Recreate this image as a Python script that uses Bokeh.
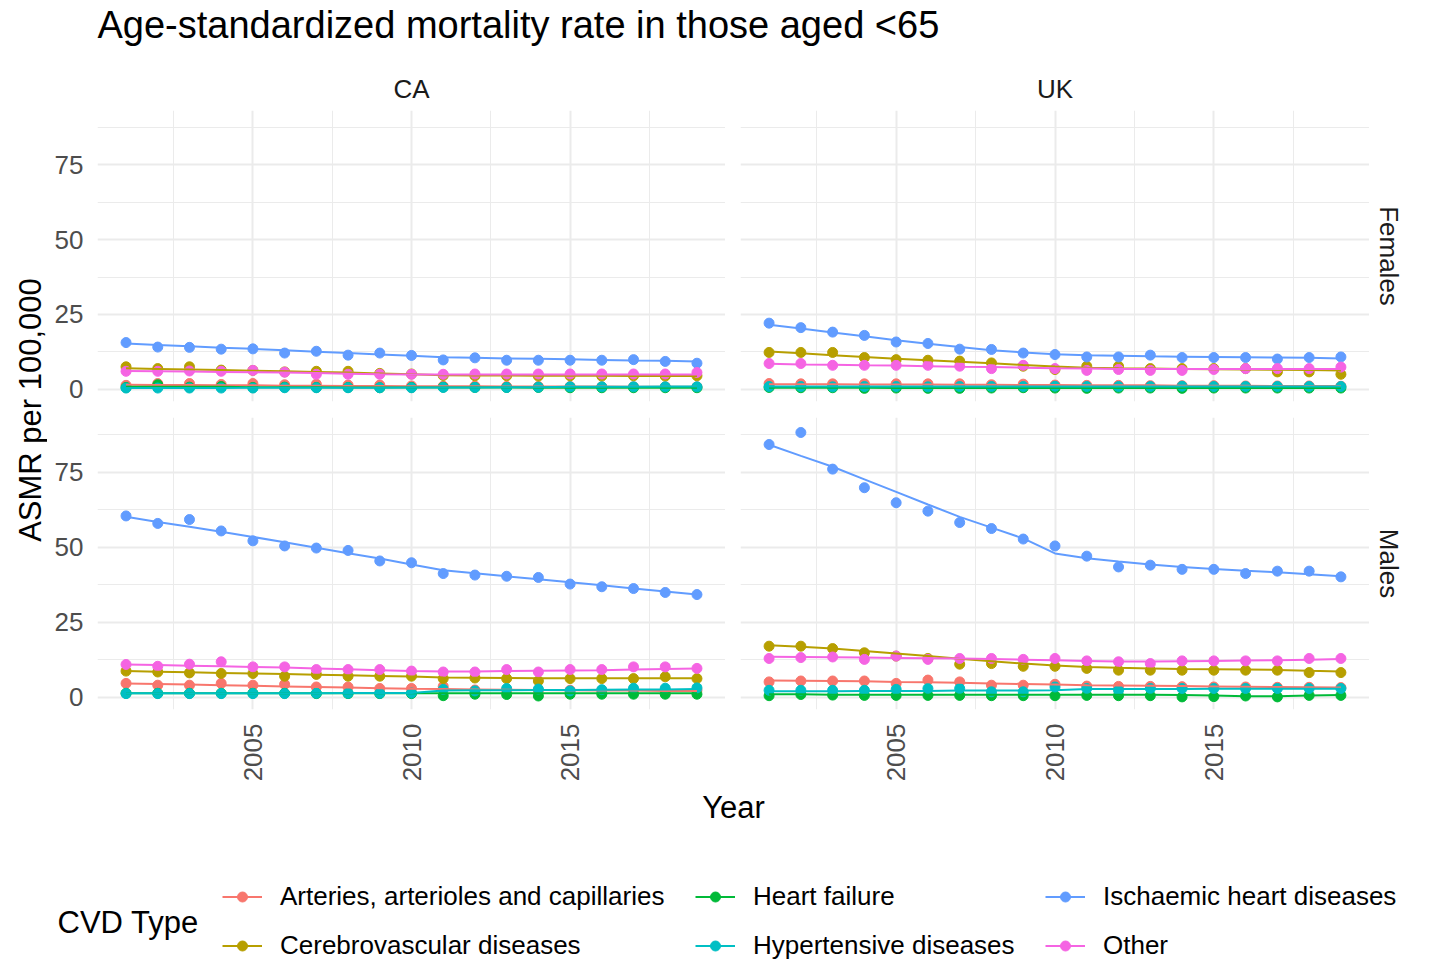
import math
from bokeh.plotting import figure
from bokeh.layouts import row, column
from bokeh.models import Range1d, FixedTicker, Label, Legend, LegendItem, Grid
from bokeh.embed import file_html
from bokeh.resources import INLINE

# ---------------- data ----------------
years = [2001, 2002, 2003, 2004, 2005, 2006, 2007, 2008, 2009, 2010,
         2011, 2012, 2013, 2014, 2015, 2016, 2017, 2018, 2019]
cvd_types = ["Arteries, arterioles and capillaries", "Cerebrovascular diseases",
             "Heart failure", "Hypertensive diseases",
             "Ischaemic heart diseases", "Other"]
colors = ["#F8766D", "#B79F00", "#00BA38", "#00BFC4", "#619CFF", "#F564E3"]
countries = ["CA", "UK"]
sexes = ["Females", "Males"]
x_ticks = [2005, 2010, 2015]
y_ticks = [0, 25, 50, 75]
title_text = "Age-standardized mortality rate in those aged <65"
x_title = "Year"
y_title = "ASMR per 100,000"
legend_title = "CVD Type"

# CA Females (observed points, fitted line)
ca_f_art = [1.3, 1.9, 1.9, 1.6, 1.9, 1.5, 1.7, 1.4, 1.4, 1.1, 1.0, 1.0, 0.9, 0.9, 0.9, 0.8, 0.8, 0.8, 0.8]
ca_f_art_fit = [1.5, 1.4, 1.4, 1.3, 1.3, 1.2, 1.2, 1.1, 1.1, 1.0, 1.0, 1.0, 0.9, 0.9, 0.9, 0.9, 0.8, 0.8, 0.8]
ca_f_cer = [7.5, 6.9, 7.5, 6.4, 6.3, 5.8, 6.0, 6.0, 5.3, 5.1, 4.6, 4.5, 4.5, 4.4, 4.5, 4.4, 4.5, 4.4, 4.5]
ca_f_cer_fit = [7.0, 6.8, 6.6, 6.4, 6.2, 6.0, 5.8, 5.6, 5.3, 5.0, 4.7, 4.6, 4.6, 4.5, 4.5, 4.5, 4.4, 4.4, 4.4]
ca_f_hf = [0.6, 1.5, 0.7, 0.9, 0.6, 0.7, 0.6, 0.6, 0.5, 0.6, 0.7, 0.6, 0.6, 0.6, 0.5, 0.5, 0.5, 0.5, 0.5]
ca_f_hf_fit = [0.8, 0.8, 0.8, 0.8, 0.7, 0.7, 0.7, 0.6, 0.6, 0.6, 0.6, 0.6, 0.6, 0.5, 0.5, 0.5, 0.5, 0.5, 0.5]
ca_f_hyp = [0.4, 0.4, 0.4, 0.4, 0.4, 0.5, 0.5, 0.5, 0.5, 0.5, 0.6, 0.6, 0.6, 0.7, 0.8, 0.8, 0.8, 0.8, 0.8]
ca_f_hyp_fit = [0.4, 0.4, 0.4, 0.4, 0.5, 0.5, 0.5, 0.5, 0.5, 0.6, 0.6, 0.6, 0.7, 0.7, 0.8, 0.8, 0.8, 0.9, 0.9]
ca_f_ihd = [15.6, 14.1, 14.0, 13.4, 13.5, 12.1, 12.7, 11.4, 12.1, 11.3, 9.8, 10.5, 9.7, 9.7, 9.7, 9.7, 9.9, 9.3, 8.7]
ca_f_ihd_fit = [15.3, 14.8, 14.4, 13.9, 13.5, 13.0, 12.5, 12.1, 11.6, 11.2, 10.7, 10.5, 10.3, 10.2, 10.0, 9.8, 9.6, 9.5, 9.3]
ca_f_oth = [6.0, 6.0, 6.1, 6.0, 6.3, 5.7, 5.0, 5.0, 5.0, 5.0, 5.0, 5.1, 5.1, 5.1, 5.1, 5.1, 5.1, 5.1, 5.6]
ca_f_oth_fit = [6.1, 6.0, 5.9, 5.8, 5.7, 5.6, 5.4, 5.2, 5.0, 4.9, 4.9, 4.9, 4.9, 4.9, 4.9, 4.9, 4.9, 4.9, 4.9]

# UK Females
uk_f_art = [1.9, 1.8, 1.8, 1.8, 1.8, 1.8, 1.8, 1.5, 1.7, 1.4, 1.3, 1.3, 1.2, 1.2, 1.2, 1.1, 1.1, 1.1, 1.0]
uk_f_art_fit = [1.7, 1.7, 1.7, 1.6, 1.6, 1.6, 1.5, 1.5, 1.4, 1.4, 1.3, 1.3, 1.3, 1.2, 1.2, 1.2, 1.1, 1.1, 1.1]
uk_f_cer = [12.3, 12.3, 12.3, 10.6, 9.9, 9.7, 9.4, 8.8, 7.7, 6.6, 7.7, 7.7, 6.9, 6.9, 6.9, 6.9, 5.8, 5.8, 5.0]
uk_f_cer_fit = [12.6, 12.0, 11.4, 10.8, 10.2, 9.7, 9.2, 8.7, 8.1, 7.6, 7.2, 7.0, 6.9, 6.8, 6.7, 6.6, 6.5, 6.4, 6.3]
uk_f_hf = [0.6, 0.5, 0.5, 0.3, 0.4, 0.3, 0.3, 0.4, 0.5, 0.4, 0.3, 0.4, 0.4, 0.3, 0.4, 0.4, 0.4, 0.4, 0.4]
uk_f_hf_fit = [0.5, 0.5, 0.5, 0.5, 0.4, 0.4, 0.4, 0.4, 0.4, 0.4, 0.4, 0.4, 0.4, 0.4, 0.4, 0.4, 0.4, 0.4, 0.4]
uk_f_hyp = [0.9, 0.9, 0.8, 0.9, 0.9, 0.8, 0.9, 0.9, 0.9, 1.0, 0.9, 0.9, 0.9, 1.0, 0.9, 0.9, 0.9, 0.9, 0.9]
uk_f_hyp_fit = [0.9, 0.9, 0.9, 0.9, 0.9, 0.9, 0.9, 0.9, 0.9, 0.9, 0.9, 0.9, 0.9, 0.9, 0.9, 0.9, 0.9, 0.9, 0.9]
uk_f_ihd = [22.1, 20.6, 19.1, 18.0, 15.8, 15.3, 13.4, 13.3, 12.1, 11.6, 10.8, 10.8, 11.4, 10.6, 10.6, 10.6, 10.1, 10.6, 10.8]
uk_f_ihd_fit = [21.6, 20.3, 19.0, 17.7, 16.4, 15.2, 14.1, 13.0, 12.3, 11.7, 11.4, 11.2, 11.0, 10.9, 10.8, 10.7, 10.6, 10.5, 10.3]
uk_f_oth = [8.6, 8.6, 8.0, 8.0, 8.0, 8.0, 7.7, 6.9, 8.0, 6.9, 6.3, 6.6, 6.3, 6.3, 6.6, 6.9, 6.9, 6.9, 7.4]
uk_f_oth_fit = [8.5, 8.3, 8.2, 8.0, 7.9, 7.7, 7.5, 7.4, 7.2, 7.0, 6.9, 6.8, 6.8, 6.8, 6.8, 6.8, 6.8, 6.8, 6.8]

# CA Males
ca_m_art = [4.6, 4.0, 4.0, 4.6, 4.0, 4.3, 3.4, 3.4, 2.9, 2.9, 3.6, 2.4, 2.4, 2.3, 2.3, 2.3, 2.3, 2.3, 2.3]
ca_m_art_fit = [4.6, 4.4, 4.2, 4.0, 3.8, 3.6, 3.4, 3.2, 3.0, 2.8, 2.7, 2.6, 2.5, 2.4, 2.3, 2.2, 2.2, 2.1, 2.1]
ca_m_cer = [8.7, 8.4, 8.1, 7.9, 7.9, 7.0, 7.6, 7.0, 7.0, 7.0, 6.2, 6.4, 6.2, 5.4, 6.2, 6.2, 6.2, 6.8, 6.2]
ca_m_cer_fit = [8.7, 8.5, 8.3, 8.1, 7.9, 7.7, 7.5, 7.3, 7.1, 6.9, 6.6, 6.5, 6.4, 6.3, 6.3, 6.3, 6.3, 6.3, 6.3]
ca_m_hf = [1.3, 1.3, 1.3, 1.3, 1.3, 1.3, 1.2, 1.2, 1.2, 1.2, 0.5, 1.0, 0.9, 0.4, 1.0, 1.0, 1.0, 1.0, 1.0]
ca_m_hf_fit = [1.3, 1.3, 1.3, 1.3, 1.3, 1.3, 1.3, 1.3, 1.3, 1.3, 1.3, 1.3, 1.3, 1.3, 1.3, 1.3, 1.3, 1.3, 1.3]
ca_m_hyp = [1.2, 1.2, 1.2, 1.2, 1.2, 1.2, 1.3, 1.3, 1.3, 1.4, 2.6, 2.1, 2.9, 2.7, 2.1, 2.5, 3.0, 3.0, 3.1]
ca_m_hyp_fit = [1.3, 1.3, 1.3, 1.3, 1.3, 1.3, 1.3, 1.4, 1.4, 1.4, 2.2, 2.3, 2.3, 2.4, 2.4, 2.5, 2.6, 2.6, 2.7]
ca_m_ihd = [60.4, 57.9, 59.2, 55.4, 52.1, 50.4, 49.7, 48.9, 45.4, 44.8, 41.2, 40.7, 40.3, 39.9, 37.7, 36.8, 36.2, 34.9, 34.2]
ca_m_ihd_fit = [60.1, 58.4, 56.8, 55.1, 53.4, 51.6, 49.8, 48.0, 46.2, 44.2, 42.3, 41.3, 40.3, 39.3, 38.3, 37.3, 36.2, 35.2, 34.2]
ca_m_oth = [10.9, 10.3, 11.0, 11.8, 10.1, 10.1, 9.2, 9.2, 9.2, 8.7, 8.4, 8.4, 9.2, 8.4, 9.2, 9.2, 10.1, 10.1, 9.6]
ca_m_oth_fit = [10.9, 10.7, 10.5, 10.3, 10.1, 9.9, 9.6, 9.3, 9.0, 8.7, 8.6, 8.6, 8.7, 8.8, 8.9, 9.0, 9.2, 9.4, 9.6]

# UK Males
uk_m_art = [5.1, 5.4, 5.4, 5.4, 4.6, 5.7, 5.1, 4.0, 4.0, 4.3, 3.7, 3.6, 3.6, 3.5, 3.4, 3.4, 3.3, 3.3, 3.2]
uk_m_art_fit = [5.6, 5.5, 5.4, 5.3, 5.1, 5.0, 4.8, 4.6, 4.4, 4.2, 4.0, 3.9, 3.8, 3.7, 3.6, 3.5, 3.4, 3.3, 3.2]
uk_m_cer = [17.0, 17.0, 16.2, 14.8, 13.7, 12.9, 11.0, 11.2, 10.3, 10.3, 9.6, 9.0, 9.0, 9.0, 9.0, 9.0, 9.0, 8.2, 8.2]
uk_m_cer_fit = [17.3, 16.8, 16.2, 15.4, 14.6, 13.7, 12.8, 12.0, 11.2, 10.6, 10.1, 9.8, 9.6, 9.4, 9.3, 9.2, 9.1, 8.8, 8.6]
uk_m_hf = [0.5, 0.9, 0.7, 0.6, 0.6, 0.6, 0.6, 0.5, 0.5, 0.5, 0.6, 0.5, 0.5, 0.1, 0.2, 0.4, 0.1, 0.6, 0.6]
uk_m_hf_fit = [1.0, 1.0, 0.8, 0.8, 0.8, 0.8, 0.8, 0.8, 0.8, 0.8, 0.8, 0.8, 0.8, 0.7, 0.6, 0.3, 0.3, 0.6, 0.7]
uk_m_hyp = [2.3, 2.3, 2.3, 2.3, 2.6, 2.9, 2.9, 1.8, 1.8, 3.4, 2.9, 2.3, 2.9, 2.9, 2.9, 2.9, 2.9, 2.9, 2.9]
uk_m_hyp_fit = [2.0, 2.0, 2.0, 2.1, 2.1, 2.1, 2.2, 2.2, 2.2, 2.3, 2.7, 2.7, 2.7, 2.7, 2.8, 2.8, 2.8, 2.8, 2.8]
uk_m_ihd = [84.2, 88.2, 76.0, 69.8, 64.8, 62.0, 58.2, 56.2, 52.7, 50.4, 47.0, 43.4, 44.0, 42.6, 42.6, 41.2, 42.0, 42.0, 40.1]
uk_m_ihd_fit = [84.1, 80.4, 76.8, 72.6, 68.4, 64.2, 60.1, 56.5, 52.9, 47.9, 46.3, 45.2, 44.2, 43.4, 42.7, 42.1, 41.6, 41.0, 40.3]
uk_m_oth = [12.9, 13.2, 13.4, 12.6, 13.7, 12.6, 12.9, 12.9, 12.6, 12.9, 12.1, 11.8, 11.2, 12.1, 12.1, 12.1, 12.1, 12.9, 12.9]
uk_m_oth_fit = [13.5, 13.4, 13.3, 13.2, 13.1, 13.0, 12.9, 12.7, 12.5, 12.3, 12.1, 11.9, 11.9, 12.0, 12.1, 12.2, 12.3, 12.5, 12.7]

panel_data = {
    ("CA", "Females"): [(ca_f_art, ca_f_art_fit), (ca_f_cer, ca_f_cer_fit), (ca_f_hf, ca_f_hf_fit),
                        (ca_f_hyp, ca_f_hyp_fit), (ca_f_ihd, ca_f_ihd_fit), (ca_f_oth, ca_f_oth_fit)],
    ("UK", "Females"): [(uk_f_art, uk_f_art_fit), (uk_f_cer, uk_f_cer_fit), (uk_f_hf, uk_f_hf_fit),
                        (uk_f_hyp, uk_f_hyp_fit), (uk_f_ihd, uk_f_ihd_fit), (uk_f_oth, uk_f_oth_fit)],
    ("CA", "Males"): [(ca_m_art, ca_m_art_fit), (ca_m_cer, ca_m_cer_fit), (ca_m_hf, ca_m_hf_fit),
                      (ca_m_hyp, ca_m_hyp_fit), (ca_m_ihd, ca_m_ihd_fit), (ca_m_oth, ca_m_oth_fit)],
    ("UK", "Males"): [(uk_m_art, uk_m_art_fit), (uk_m_cer, uk_m_cer_fit), (uk_m_hf, uk_m_hf_fit),
                      (uk_m_hyp, uk_m_hyp_fit), (uk_m_ihd, uk_m_ihd_fit), (uk_m_oth, uk_m_oth_fit)],
}

# ---------------- styling ----------------
FONT = "Liberation Sans"
GRID = "#EBEBEB"
X_RANGE = (2000.1, 2019.9)
Y_RANGE = (-4.1, 93.2)
X_MINOR = [2002.5, 2007.5, 2012.5, 2017.5]
Y_MINOR = [12.5, 37.5, 62.5, 87.5]
PT_SIZE = 10
LW = 2


def style_grid(p):
    xt = FixedTicker(ticks=x_ticks, minor_ticks=X_MINOR)
    yt = FixedTicker(ticks=y_ticks, minor_ticks=Y_MINOR)
    if len(p.xgrid) == 0:
        p.add_layout(Grid(dimension=0), "center")
    if len(p.ygrid) == 0:
        p.add_layout(Grid(dimension=1), "center")
    for g, t in ((p.xgrid, xt), (p.ygrid, yt)):
        g.ticker = t
        g.grid_line_color = GRID
        g.grid_line_width = 2
        g.minor_grid_line_color = GRID
        g.minor_grid_line_width = 1


def make_panel(country, sex, width, height, left, top, bottom, show_y, show_x):
    p = figure(width=width, height=height,
               x_range=Range1d(*X_RANGE), y_range=Range1d(*Y_RANGE),
               output_backend="svg", toolbar_location=None, title=None,
               x_axis_location="below" if show_x else None,
               y_axis_location="left" if show_y else None,
               min_border_left=left, min_border_right=0,
               min_border_top=top, min_border_bottom=bottom)
    p.outline_line_color = None
    p.background_fill_color = "white"
    p.border_fill_color = "white"
    style_grid(p)
    if show_y:
        ax = p.yaxis[0]
        ax.ticker = FixedTicker(ticks=y_ticks)
        ax.major_label_overrides = {t: str(t) for t in y_ticks}
    if show_x:
        ax = p.xaxis[0]
        ax.ticker = FixedTicker(ticks=x_ticks)
        ax.major_label_overrides = {t: str(t) for t in x_ticks}
        ax.major_label_orientation = math.pi / 2
    for ax in list(p.xaxis) + list(p.yaxis):
        ax.axis_line_color = None
        ax.major_tick_line_color = None
        ax.minor_tick_line_color = None
        ax.major_tick_out = 0
        ax.major_tick_in = 0
        ax.major_label_standoff = 14
        ax.major_label_text_font = FONT
        ax.major_label_text_font_size = "26px"
        ax.major_label_text_color = "#4D4D4D"
    series = panel_data[(country, sex)]
    for (pts, fit), c in zip(series, colors):
        p.scatter(years, pts, size=PT_SIZE, color=c)
    for (pts, fit), c in zip(series, colors):
        p.line(years, fit, line_width=LW, color=c)
    return p


def blank(width, height):
    p = figure(width=width, height=height, x_range=Range1d(0, width),
               y_range=Range1d(height, 0), output_backend="svg",
               toolbar_location=None, title=None,
               x_axis_location=None, y_axis_location=None,
               min_border_left=0, min_border_right=0,
               min_border_top=0, min_border_bottom=0)
    p.grid.visible = False
    p.outline_line_color = None
    p.background_fill_color = "white"
    p.border_fill_color = "white"
    return p


# ---------------- layout (page pixels; body has no margin) ----------------
TOTAL_W = 1435
HEADER_H = 110
TOP_H = 299      # frame 291 + 8 bottom border
BOT_H = 380      # 8 top border + frame 292 + 80 bottom border
FOOT_H = 170

header = blank(TOTAL_W, HEADER_H)
header.add_layout(Label(x=97, y=24, text=title_text, text_font=FONT, text_font_size="38px",
                        text_color="black", text_align="left", text_baseline="middle"))
header.add_layout(Label(x=411, y=88, text=countries[0], text_font=FONT, text_font_size="26px",
                        text_color="#1A1A1A", text_align="center", text_baseline="middle"))
header.add_layout(Label(x=1054.5, y=88, text=countries[1], text_font=FONT, text_font_size="26px",
                        text_color="#1A1A1A", text_align="center", text_baseline="middle"))

ylab = blank(47, TOP_H + BOT_H)
ylab.add_layout(Label(x=30, y=299.5, text=y_title, angle=math.pi / 2, text_font=FONT,
                      text_font_size="31px", text_color="black", text_align="center",
                      text_baseline="middle"))

ca_f = make_panel("CA", "Females", 678, TOP_H, 50, 0, 8, True, False)
ca_m = make_panel("CA", "Males", 678, BOT_H, 50, 8, 80, True, True)
uk_f = make_panel("UK", "Females", 644, TOP_H, 15, 0, 8, False, False)
uk_m = make_panel("UK", "Males", 644, BOT_H, 15, 8, 80, False, True)

strip = blank(66, TOP_H + BOT_H)
strip.add_layout(Label(x=19, y=145.5, text=sexes[0], angle=-math.pi / 2, text_font=FONT,
                       text_font_size="26px", text_color="#1A1A1A", text_align="center",
                       text_baseline="middle"))
strip.add_layout(Label(x=19, y=453, text=sexes[1], angle=-math.pi / 2, text_font=FONT,
                       text_font_size="26px", text_color="#1A1A1A", text_align="center",
                       text_baseline="middle"))

footer = blank(TOTAL_W, FOOT_H)
footer.add_layout(Label(x=733, y=18, text=x_title, text_font=FONT, text_font_size="31px",
                        text_color="black", text_align="center", text_baseline="middle"))
footer.add_layout(Label(x=57, y=133, text=legend_title, text_font=FONT, text_font_size="31px",
                        text_color="black", text_align="left", text_baseline="middle"))

nan = float("nan")
items = []
for name, c in zip(cvd_types, colors):
    lr = footer.line(x=[nan], y=[nan], line_width=LW, color=c)
    sr = footer.scatter(x=[nan], y=[nan], size=PT_SIZE, color=c)
    items.append(LegendItem(label=name, renderers=[lr, sr]))

legend_lefts = [222, 695, 1045]
for i, lx in enumerate(legend_lefts):
    lg = Legend(items=items[2 * i:2 * i + 2], location=(lx, -2), orientation="vertical",
                glyph_width=40, glyph_height=25, label_height=28, label_standoff=18,
                spacing=18, padding=0, margin=0, border_line_color=None,
                background_fill_alpha=0, label_text_font=FONT,
                label_text_font_size="26px", label_text_color="black")
    footer.add_layout(lg, "center")

layout = column(
    header,
    row(ylab, column(ca_f, ca_m), column(uk_f, uk_m), strip),
    footer,
)

open("out.html", "w").write(file_html(layout, INLINE))
